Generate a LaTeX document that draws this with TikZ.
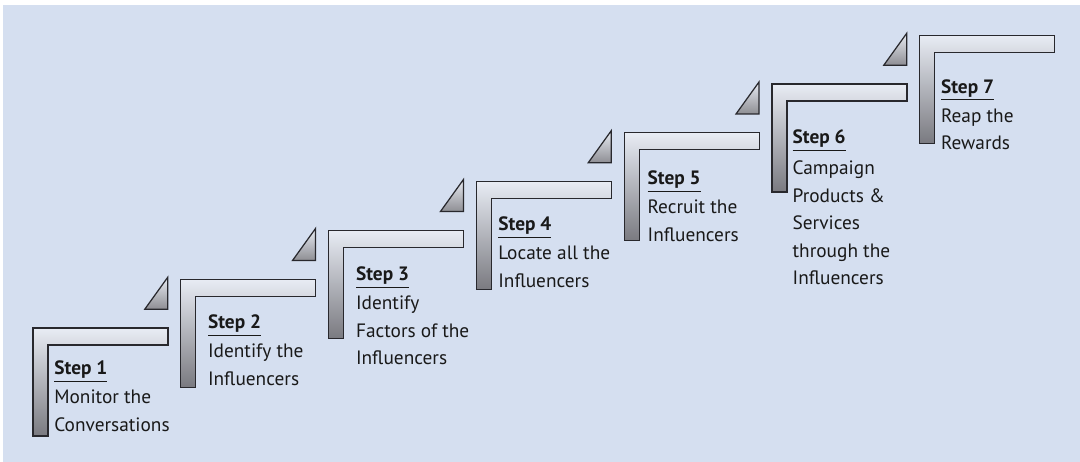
\documentclass[tikz,border=0pt]{standalone}
\usepackage{fontspec}
\setmainfont{PT Sans}
\definecolor{bgblue}{RGB}{213,223,240}
\definecolor{barlight}{RGB}{232,236,244}
\definecolor{bardark}{RGB}{122,122,128}
\definecolor{edgegray}{RGB}{40,40,45}
\begin{document}
\begin{tikzpicture}[x=0.02cm,y=-0.02cm,
  stair/.style={draw=edgegray, line width=0.7pt, top color=barlight, bottom color=bardark},
  wedge/.style={draw=edgegray, line width=0.7pt, top color=barlight, bottom color=bardark!85!white},
  every node/.style={font=\fontsize{11}{15.6}\selectfont, align=left, inner sep=0pt, anchor=north west, text=black!90}]
\useasboundingbox (0,0) rectangle (1080,462);
\fill[bgblue] (3,5) rectangle (1080,462);
% stairs, each with a wedge on its left
\foreach \i in {1,...,7}{
  \pgfmathsetmacro\X{33+147.8*(\i-1)}
  \pgfmathsetmacro\Y{328-48.8*(\i-1)}
  \draw[stair] (\X,\Y) -- ++(135,0) -- ++(0,17) -- ++(-120,0) -- ++(0,91) -- ++(-15,0) -- cycle;
  \ifnum\i>1
    \draw[wedge] (\X-36,\Y+30) -- (\X-13,\Y-2) -- (\X-13,\Y+30) -- cycle;
  \fi
}
% step texts (top of the "Step" line)
\node (txt1) at (54,360.5)    {\underline{\textbf{Step 1}}\\[1pt]Monitor the\\Conversations};
\node (txt2) at (207.7,314.5) {\underline{\textbf{Step 2}}\\[1pt]Identify the\\Influencers};
\node (txt3) at (355.7,266.5) {\underline{\textbf{Step 3}}\\[1pt]Identify\\Factors of the\\Influencers};
\node (txt4) at (498,216.5)   {\underline{\textbf{Step 4}}\\[1pt]Locate all the\\Influencers};
\node (txt5) at (647.3,170.5) {\underline{\textbf{Step 5}}\\[1pt]Recruit the\\Influencers};
\node (txt6) at (792.3,129.8) {\underline{\textbf{Step 6}}\\[2pt]Campaign\\Products \&\\Services\\through the\\Influencers};
\node (txt7) at (940.7,79.2)  {\underline{\textbf{Step 7}}\\[1pt]Reap the\\Rewards};
\end{tikzpicture}
\end{document}
